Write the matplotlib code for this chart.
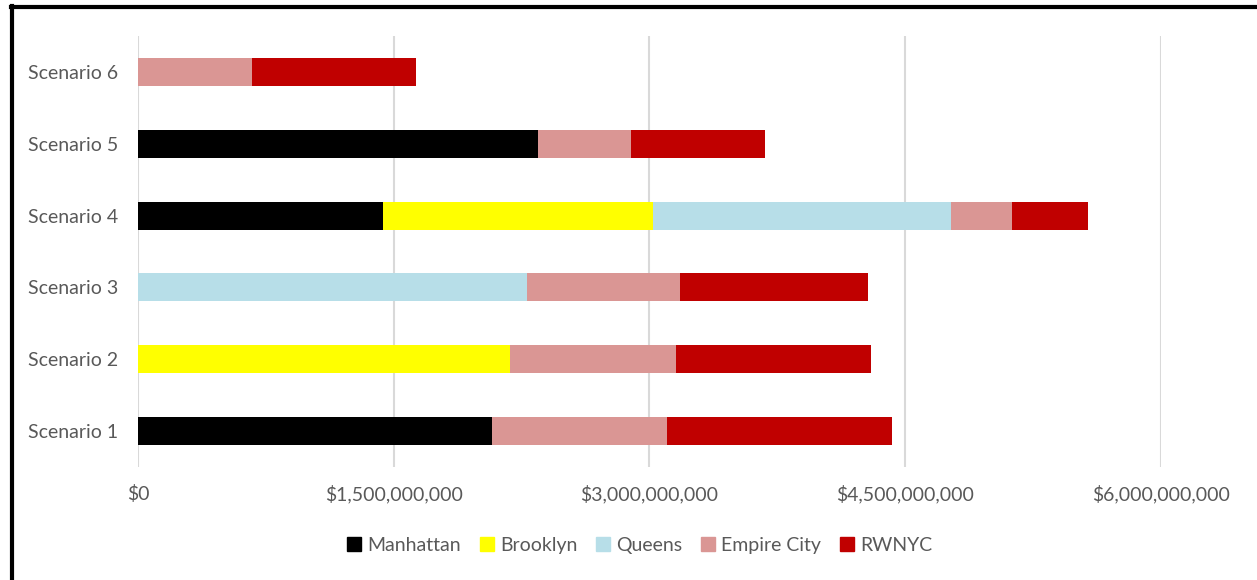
import matplotlib.pyplot as plt
import numpy as np
from matplotlib.lines import Line2D
from matplotlib.ticker import FuncFormatter

plt.rcParams['font.family'] = ['Lato', 'DejaVu Sans']

scenarios = ['Scenario 1', 'Scenario 2', 'Scenario 3', 'Scenario 4', 'Scenario 5', 'Scenario 6']
series = ['Manhattan', 'Brooklyn', 'Queens', 'Empire City', 'RWNYC']
colors = ['#000000', '#FFFF00', '#B7DEE8', '#DA9694', '#C00000']

# values in dollars, one list per borough/casino (order follows scenarios)
manhattan = [2.074e9, 0, 0, 1.436e9, 2.344e9, 0]
brooklyn = [0, 2.180e9, 0, 1.582e9, 0, 0]
queens = [0, 0, 2.279e9, 1.752e9, 0, 0]
empire_city = [1.031e9, 0.973e9, 0.902e9, 0.357e9, 0.545e9, 0.668e9]
rwnyc = [1.318e9, 1.148e9, 1.100e9, 0.445e9, 0.791e9, 0.961e9]

data = [manhattan, brooklyn, queens, empire_city, rwnyc]
x_ticks = [0, 1.5e9, 3.0e9, 4.5e9, 6.0e9]

fig = plt.figure(figsize=(12.57, 5.8), dpi=100)
ax = fig.add_axes([0.1098, 0.1948, 0.8138, 0.7431])

y = np.arange(len(scenarios))
left = np.zeros(len(scenarios))
for name, vals, c in zip(series, data, colors):
    vals = np.array(vals)
    ax.barh(y, vals, left=left, height=0.39, color=c, label=name, zorder=3)
    left += vals

ax.set_xlim(0, 6e9)
ax.set_ylim(-0.5, 5.5)
ax.set_xticks(x_ticks)
ax.xaxis.set_major_formatter(FuncFormatter(lambda v, p: '${:,.0f}'.format(v)))
ax.set_yticks(y)
ax.set_yticklabels(scenarios)
ax.grid(axis='x', color='#D9D9D9', linewidth=1.5, zorder=0)
for s in ax.spines.values():
    s.set_visible(False)
ax.tick_params(length=0, labelsize=14, colors='#595959')
ax.tick_params(axis='x', pad=13)
ax.tick_params(axis='y', pad=14.5)

handles = [Line2D([], [], marker='s', linestyle='none', markersize=10,
                  markerfacecolor=c, markeredgecolor=c) for c in colors]
fig.legend(handles, series, loc='center', bbox_to_anchor=(0.509, 0.06), ncol=5,
           frameon=False, fontsize=14, handlelength=0.7, handletextpad=0.35,
           columnspacing=0.95, labelcolor='#595959')

# outer frame (left and top edges)
fig.add_artist(Line2D([0.0096, 0.0096], [0, 0.99], color='black', linewidth=3,
                      transform=fig.transFigure))
fig.add_artist(Line2D([0.0084, 1.0], [0.9885, 0.9885], color='black', linewidth=3,
                      transform=fig.transFigure))

fig.savefig('out.png', dpi=100)
